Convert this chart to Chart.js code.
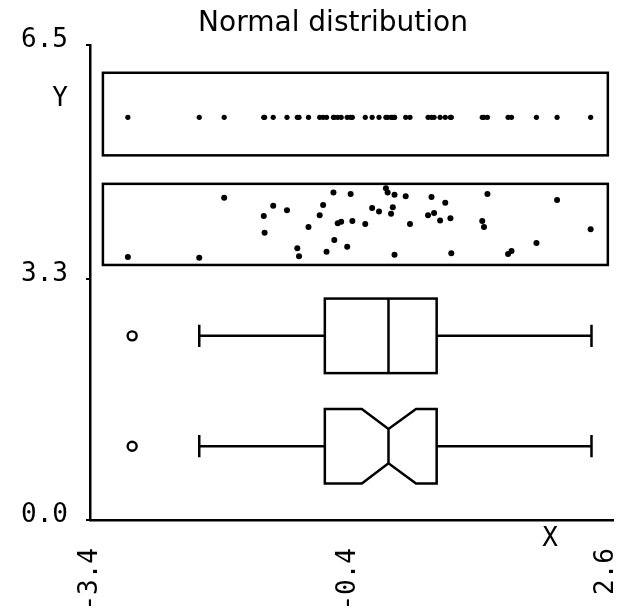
<!DOCTYPE html>
<html>
<head>
<meta charset="utf-8">
<script src="https://cdn.jsdelivr.net/npm/chart.js@4/dist/chart.umd.min.js"></script>
<style>
  body { margin: 0; background: #fff; }
</style>
</head>
<body>
<canvas id="normal" width="631" height="612"></canvas>
<script>
// sample values
const xValues = [-2.96, -2.13, -1.84, -1.38, -1.37, -1.27, -1.11, -0.99, -0.97, -0.86,
    -0.73, -0.69, -0.65, -0.57, -0.56, -0.52, -0.48, -0.41, -0.37, -0.35,
    -0.20, -0.12, -0.04, 0.04, 0.06, 0.10, 0.12, 0.14, 0.14, 0.27,
    0.32, 0.53, 0.57, 0.60, 0.67, 0.73, 0.79, 0.80, 1.16, 1.18,
    1.22, 1.46, 1.50, 1.79, 2.03, 2.42];
const jitterY = [3.60, 3.59, 4.41, 4.16, 3.93, 4.30, 4.24, 3.72, 3.61, 4.01,
    4.17, 4.31, 3.67, 4.48, 3.83, 4.06, 4.08, 3.74, 4.46, 4.09,
    4.05, 4.27, 4.22, 4.54, 4.48, 4.19, 4.28, 4.45, 3.63, 4.43,
    4.05, 4.17, 4.42, 4.20, 4.10, 4.34, 4.13, 3.65, 4.09, 4.01,
    4.46, 3.64, 3.68, 3.79, 4.38, 3.98];

// box plot stats: low whisker, Q1, median, Q3, high whisker
const boxStats = [-2.13, -0.67, 0.07, 0.63, 2.43];
const notchRange = [-0.24, 0.39];
const outliers = [-2.91];

const xTicks = [-3.4, -0.4, 2.6];
const xTickLabels = ['-3.4', '-0.4', '2.6'];
const yTicks = [0, 3.3, 6.5];
const yTickLabels = ['0.0', '3.3', '6.5'];

// rows of the display (in y units)
const stripLevel = 5.51;
const stripFrames = [[4.99, 6.12], [3.49, 4.60]];
const stripSpan = [-3.25, 2.62];
const boxLevels = [2.52, 1.01];
const boxHalf = 0.51;

const boxPlugin = {
    id: 'boxes',
    afterDatasetsDraw(chart) {
        const ctx = chart.ctx;
        const x = chart.scales.x, y = chart.scales.y;
        ctx.save();
        ctx.strokeStyle = '#000';
        ctx.lineWidth = 2.5;
        ctx.lineJoin = 'miter';

        // frames round the two strips
        const l = x.getPixelForValue(stripSpan[0]);
        const r = x.getPixelForValue(stripSpan[1]);
        stripFrames.forEach(f => {
            const t = y.getPixelForValue(f[1]);
            const b = y.getPixelForValue(f[0]);
            ctx.strokeRect(l, t, r - l, b - t);
        });

        const [lo, q1, med, q3, hi] = boxStats.map(v => x.getPixelForValue(v));
        const nlo = x.getPixelForValue(notchRange[0]);
        const nhi = x.getPixelForValue(notchRange[1]);

        boxLevels.forEach((lev, i) => {
            const yc = y.getPixelForValue(lev);
            const yt = y.getPixelForValue(lev + boxHalf);
            const yb = y.getPixelForValue(lev - boxHalf);
            const h = yb - yt;
            const cap = h * 0.15;

            ctx.beginPath();
            ctx.moveTo(lo, yc); ctx.lineTo(q1, yc);
            ctx.moveTo(q3, yc); ctx.lineTo(hi, yc);
            ctx.moveTo(lo, yc - cap); ctx.lineTo(lo, yc + cap);
            ctx.moveTo(hi, yc - cap); ctx.lineTo(hi, yc + cap);
            ctx.stroke();

            if (i === 0) {
                ctx.strokeRect(q1, yt, q3 - q1, h);
                ctx.beginPath();
                ctx.moveTo(med, yt); ctx.lineTo(med, yb);
                ctx.stroke();
            } else {
                const d = h * 0.27;
                ctx.beginPath();
                ctx.moveTo(q1, yt);
                ctx.lineTo(nlo, yt);
                ctx.lineTo(med, yt + d);
                ctx.lineTo(nhi, yt);
                ctx.lineTo(q3, yt);
                ctx.lineTo(q3, yb);
                ctx.lineTo(nhi, yb);
                ctx.lineTo(med, yb - d);
                ctx.lineTo(nlo, yb);
                ctx.lineTo(q1, yb);
                ctx.closePath();
                ctx.moveTo(med, yt + d); ctx.lineTo(med, yb - d);
                ctx.stroke();
            }
        });

        // title and axis letters
        const area = chart.chartArea;
        ctx.fillStyle = '#000';
        ctx.textAlign = 'center';
        ctx.textBaseline = 'middle';
        ctx.font = '28px "DejaVu Sans"';
        ctx.fillText('Normal distribution', 333, 24);
        ctx.font = '26px "DejaVu Sans Mono"';
        ctx.fillText('X', area.right - 63, area.bottom + 19);
        ctx.fillText('Y', area.left - 30, 99);
        ctx.restore();
    }
};

const ctx = document.getElementById('normal').getContext('2d');

const myChart = new Chart(ctx, {
    type: 'scatter',
    data: {
        datasets: [
            {
                label: 'Y',
                data: xValues.map(v => ({ x: v, y: stripLevel })),
                pointRadius: 2.6,
                backgroundColor: '#000',
                borderWidth: 0,
            },
            {
                label: 'jitter',
                data: xValues.map((v, i) => ({ x: v, y: jitterY[i] })),
                pointRadius: 3,
                backgroundColor: '#000',
                borderWidth: 0,
            },
            {
                label: 'outliers',
                data: boxLevels.flatMap(lev => outliers.map(v => ({ x: v, y: lev }))),
                pointRadius: 4.5,
                backgroundColor: '#fff',
                borderColor: '#000',
                borderWidth: 2.4,
            },
        ],
    },
    options: {
        responsive: false,
        animation: false,
        layout: { padding: { top: 45, right: 18, left: 0, bottom: 0 } },
        plugins: {
            legend: { display: false },
            tooltip: { enabled: false },
        },
        scales: {
            x: {
                type: 'linear',
                min: -3.4,
                max: 2.68,
                afterBuildTicks: s => { s.ticks = xTicks.map(v => ({ value: v })); },
                afterFit: s => { s.height = 92; s.paddingLeft = 0; s.paddingRight = 0; },
                grid: { display: false },
                border: { display: true, color: '#000', width: 2.5 },
                ticks: {
                    autoSkip: false,
                    minRotation: 90,
                    maxRotation: 90,
                    padding: 20,
                    color: '#000',
                    font: { family: 'DejaVu Sans Mono', size: 26 },
                    callback: (v, i) => xTickLabels[i],
                },
            },
            y: {
                type: 'linear',
                min: 0,
                max: 6.5,
                afterBuildTicks: s => { s.ticks = yTicks.map(v => ({ value: v })); },
                afterFit: s => { s.width = 90; },
                grid: { display: true, drawOnChartArea: false, drawTicks: true, tickLength: 4, color: '#000', lineWidth: 2 },
                border: { display: true, color: '#000', width: 2.5 },
                ticks: {
                    padding: 18,
                    labelOffset: -5,
                    color: '#000',
                    font: { family: 'DejaVu Sans Mono', size: 26 },
                    callback: (v, i) => yTickLabels[i],
                },
            },
        },
    },
    plugins: [boxPlugin],
});
</script>
</body>
</html>
